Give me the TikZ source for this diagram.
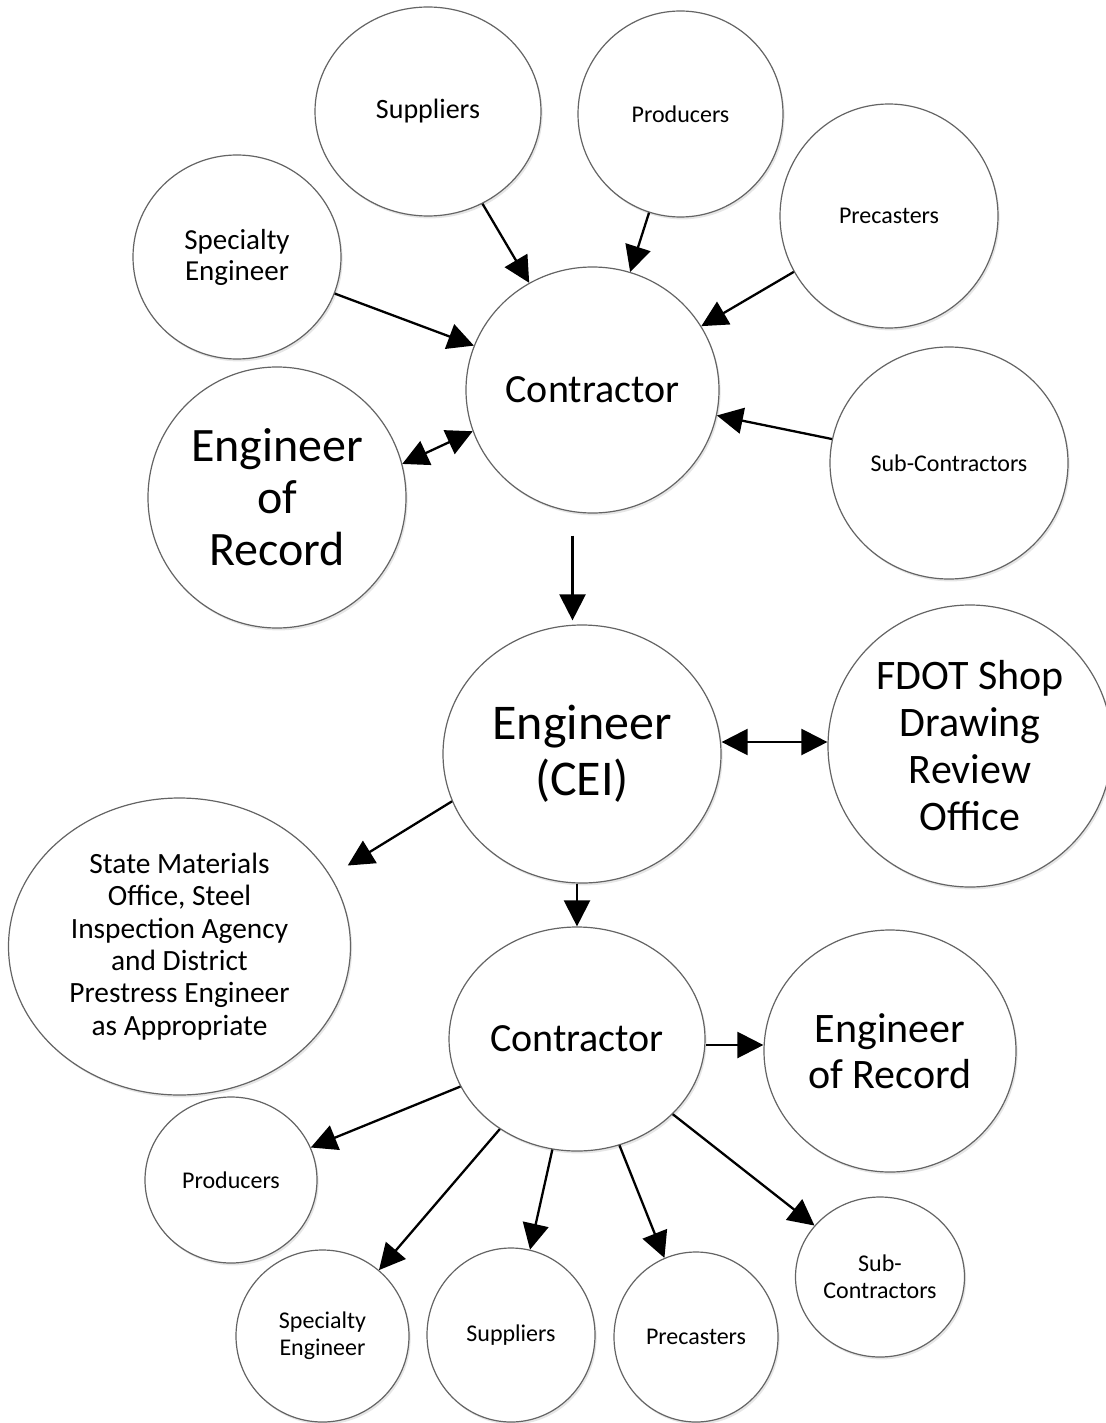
\documentclass[tikz,border=0pt]{standalone}
\usepackage{fontspec}
\setmainfont{Carlito}
\usetikzlibrary{arrows.meta, shapes.geometric, shadows, calc}
\definecolor{color1}{RGB}{100,100,100}
\newcommand{\txtsize}[2]{\fontsize{#1}{#2}\selectfont}

\tikzset{
  bubble/.style 2 args={ellipse, draw=color1, line width=0.6pt, fill=white,
    inner sep=0pt, align=center, minimum width=#1pt, minimum height=#2pt,
    drop shadow={shadow xshift=0.8pt, shadow yshift=-1.2pt, opacity=0.2}},
  link/.style={line width=1.15pt, -{Triangle[length=13pt,width=13pt]}},
  twoway/.style={line width=1.15pt, {Triangle[length=13pt,width=13pt]}-{Triangle[length=13pt,width=13pt]}}
}

\begin{document}
\begin{tikzpicture}[x=0.5pt, y=-0.5pt]
                \useasboundingbox (0,0) rectangle (1106,1423);

                \node[bubble={113}{104.5}, font=\txtsize{14}{17}] (sup1) at (428,111.5) {Suppliers};
                \node[bubble={102.5}{103}, font=\txtsize{12}{14}] (pro1) at (680.5,114) {Producers};
                \node[bubble={109}{112}, font=\txtsize{12}{14}] (pre1) at (889,216) {Precasters};
                \node[bubble={104}{102}, font=\txtsize{14.5}{15.5}] (spe1) at (237,257) {Specialty\\Engineer};
                \node[bubble={126.5}{123}, font=\txtsize{20}{24}] (con1) at (592.5,390) {Contractor};
                \node[bubble={119}{116}, font=\txtsize{12}{14}] (sub1) at (949,463) {Sub-Contractors};
                \node[bubble={129}{130.5}, font=\txtsize{24}{26}] (eor1) at (277,497.5) {Engineer\\of\\Record};

                \node[bubble={139}{129}, font=\txtsize{25}{28}] (cei) at (582,754) {Engineer\\(CEI)};
                \node[bubble={142}{141}, font=\txtsize{21}{23.5}] (fdot) at (970,746) {FDOT Shop\\Drawing\\Review\\Office};
                \node[bubble={171}{148.5}, font=\txtsize{14.7}{16.2}] (sm) at (179.5,946.5) {State Materials\\Office, Steel\\Inspection Agency\\and District\\Prestress Engineer\\as Appropriate};

                \node[bubble={128}{112}, font=\txtsize{20}{24}] (con2) at (577,1039) {Contractor};
                \node[bubble={126}{121}, font=\txtsize{21}{23}] (eor2) at (890,1051) {Engineer\\of Record};
                \node[bubble={86}{83}, font=\txtsize{12}{14}] (pro2) at (231,1180) {Producers};
                \node[bubble={86.5}{86}, font=\txtsize{12}{13.5}] (spe2) at (322.5,1336) {Specialty\\Engineer};
                \node[bubble={84}{87}, font=\txtsize{12}{14}] (sup2) at (511,1335) {Suppliers};
                \node[bubble={82}{85}, font=\txtsize{12}{14}] (pre2) at (696,1337) {Precasters};
                \node[bubble={84.5}{80}, font=\txtsize{12}{13.5}] (sub2) at (880,1277) {Sub-\\Contractors};

                \draw[link] (sup1) -- (con1);
                \draw[link] (pro1) -- (con1);
                \draw[link] (pre1) -- (con1);
                \draw[link] (spe1) -- (con1);
                \draw[link] (sub1) -- (con1);
                \draw[twoway] (eor1.15) -- (con1.199);

                \draw[link] ($(con1.south)+(-20,22)$) -- ($(con1.south |- cei.north)+(-20,-4)$);
                \draw[twoway] ([yshift=6pt]cei.east) -- ([yshift=6pt]cei.east -| fdot.west);
                \draw[link, shorten >=10pt] (cei.200) -- (sm.25);
                \draw[link] (con2.north |- cei.south) -- (con2.north);

                \draw[link] ([yshift=-3pt]con2.east) -- ([yshift=-3pt]con2.east -| eor2.west);
                \draw[link] (con2) -- (pro2);
                \draw[link] (con2) -- (spe2);
                \draw[link] (con2) -- (sup2);
                \draw[link] (con2) -- (pre2);
                \draw[link] (con2) -- (sub2);
            \end{tikzpicture}
\end{document}
